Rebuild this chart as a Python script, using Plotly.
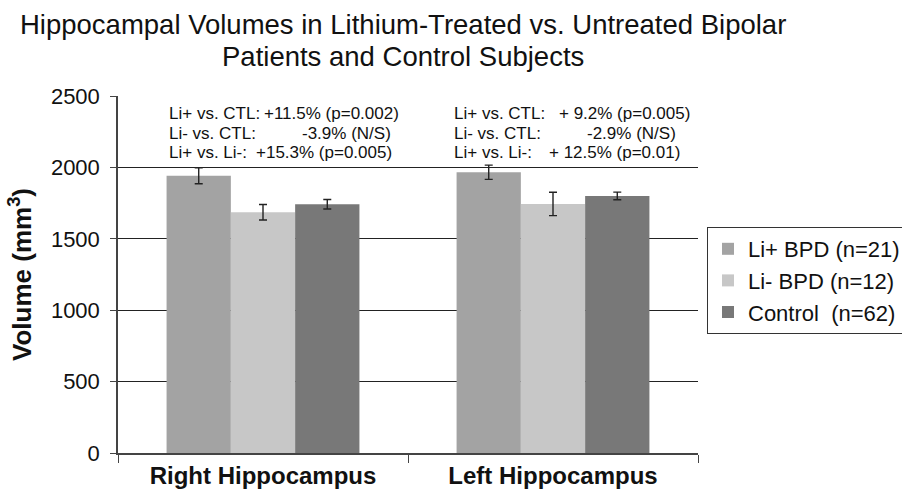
import plotly.graph_objects as go

categories = ["Right Hippocampus", "Left Hippocampus"]
series_names = ["Li+ BPD (n=21)", "Li- BPD (n=12)", "Control  (n=62)"]
li_plus = [1942, 1966]
li_minus = [1686, 1744]
control = [1742, 1800]
li_plus_err = [56, 50]
li_minus_err = [54, 82]
control_err = [33, 27]
colors = ["#a3a3a3", "#c7c7c7", "#787878"]

y_ticks = [0, 500, 1000, 1500, 2000, 2500]

title_lines = ["Hippocampal Volumes in Lithium-Treated vs. Untreated Bipolar",
               "Patients and Control Subjects"]
y_title = "Volume (mm<sup>3</sup>)"

comp_labels = ["Li+ vs. CTL:", "Li- vs. CTL:", "Li+ vs. Li-:"]
right_values = ["+11.5% (p=0.002)", "-3.9% (N/S)", "+15.3% (p=0.005)"]
left_values = ["+ 9.2% (p=0.005)", "-2.9% (N/S)", "+ 12.5% (p=0.01)"]

FONT = "Arial, 'Liberation Sans', sans-serif"
fig = go.Figure()
for name, vals, errs, col in zip(series_names, [li_plus, li_minus, control],
                                 [li_plus_err, li_minus_err, control_err], colors):
    fig.add_trace(go.Bar(
        x=categories, y=vals, name=name, marker=dict(color=col, line=dict(width=0)),
        error_y=dict(type="data", array=errs, visible=True, color="#222222",
                     thickness=1.4, width=4),
    ))

W, H = 902, 492
ML, MR, MT, MB = 118, 204, 96, 39
pw = W - ML - MR
ph = H - MT - MB

def px_x(px):
    return (px - ML) / pw

def px_y(py):
    return (H - MB - py) / ph

line_y = [113, 133, 152]
right_label_x = 167
left_label_x = 452
right_value_x = [262, 300, 254]
left_value_x = [557, 585, 547]

ann = []
for i in range(3):
    for lx, vx, vals in [(right_label_x, right_value_x, right_values),
                         (left_label_x, left_value_x, left_values)]:
        ann.append(dict(x=px_x(lx), y=px_y(line_y[i]), xref="paper", yref="paper",
                        text=comp_labels[i], showarrow=False, xanchor="left",
                        yanchor="middle", font=dict(size=17, color="#111111", family=FONT)))
        ann.append(dict(x=px_x(vx[i]), y=px_y(line_y[i]), xref="paper", yref="paper",
                        text=vals[i], showarrow=False, xanchor="left",
                        yanchor="middle", font=dict(size=17, color="#111111", family=FONT)))

title_y = [24, 57]
for t, ty in zip(title_lines, title_y):
    ann.append(dict(x=px_x(403), y=px_y(ty), xref="paper", yref="paper", text=t,
                    showarrow=False, xanchor="center", yanchor="middle",
                    font=dict(size=27.5, color="#111111", family=FONT)))

fig.update_layout(
    width=W, height=H,
    margin=dict(l=ML, r=MR, t=MT, b=MB, autoexpand=False),
    paper_bgcolor="white", plot_bgcolor="white",
    font=dict(family=FONT, color="#111111"),
    barmode="group", bargap=0.335, bargroupgap=0,
    showlegend=True,
    legend=dict(x=px_x(707), y=px_y(227), xanchor="left", yanchor="top",
                bordercolor="#333333", borderwidth=1, bgcolor="white",
                font=dict(size=22, family=FONT, color="#111111"),
                tracegroupgap=0, itemwidth=30),
    annotations=ann,
)
fig.update_yaxes(range=[0, 2500], tickvals=y_ticks, showgrid=True, gridcolor="#222222",
                 gridwidth=1.4, showline=True, linecolor="#444444", linewidth=1.5,
                 ticks="outside", ticklen=6, tickcolor="#444444", zeroline=False,
                 automargin=False, ticklabelstandoff=6,
                 tickfont=dict(size=22, family=FONT, color="#111111"),
                 title=dict(text=y_title, standoff=12,
                            font=dict(size=26, family=FONT,
                                      color="#111111", weight="bold")))
fig.update_xaxes(showline=True, linecolor="#444444", linewidth=1.5, ticks="outside",
                 tickson="boundaries", ticklen=8, tickcolor="#444444", automargin=False,
                 tickfont=dict(size=24, family=FONT, color="#111111", weight="bold"))

fig.write_html("out.html", config={"displayModeBar": False},
               post_script="document.body.style.margin='0';document.body.style.padding='0';")
